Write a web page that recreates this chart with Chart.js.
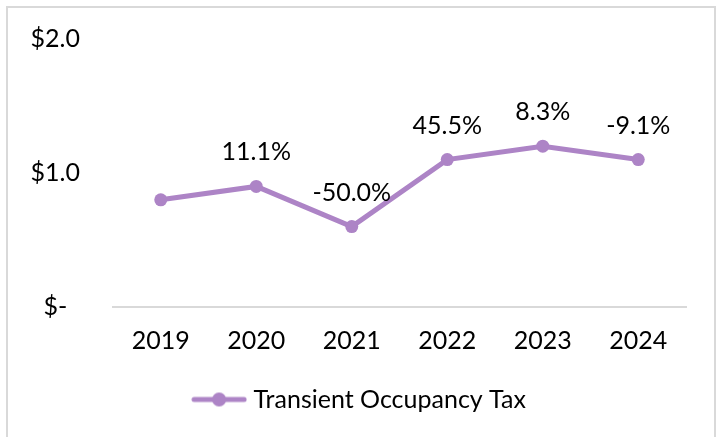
<!DOCTYPE html>
<html>
<head>
<meta charset="utf-8">
<script src="https://cdn.jsdelivr.net/npm/chart.js@4/dist/chart.umd.min.js"></script>
<style>
  html, body { margin: 0; padding: 0; background: #fff; overflow: hidden; }
  #frame { position: absolute; left: 6px; top: 6px; width: 706px; height: 500px; border: 2px solid #d9d9d9; }
  #wrap { position: absolute; left: 0; top: 0; width: 723px; height: 437px; }
</style>
</head>
<body>
<div id="frame"></div>
<div id="wrap"><canvas id="chart" width="723" height="437"></canvas></div>
<script>
// ---------- data ----------
const years     = ['2019', '2020', '2021', '2022', '2023', '2024'];
const taxValues = [0.8, 0.9, 0.6, 1.1, 1.2, 1.1];          // $ millions (approx)
const pctLabels = ['', '11.1%', '-50.0%', '45.5%', '8.3%', '-9.1%'];
const seriesName = 'Transient Occupancy Tax';

const purple = '#ad84c6';
const FONT = 'Lato';
const FS = 25;

// legend marker: line with a dot on it
function legendMark() {
  const c = document.createElement('canvas');
  c.width = 56; c.height = 16;
  const g = c.getContext('2d');
  g.strokeStyle = purple; g.lineWidth = 5; g.lineCap = 'round';
  g.beginPath(); g.moveTo(3, 8); g.lineTo(53, 8); g.stroke();
  g.fillStyle = purple;
  g.beginPath(); g.arc(28, 8, 7, 0, Math.PI * 2); g.fill();
  return c;
}

// ---------- % labels over points ----------
const pctPlugin = {
  id: 'pct',
  afterDatasetsDraw(chart) {
    const ctx = chart.ctx;
    const pts = chart.getDatasetMeta(0).data;
    ctx.save();
    ctx.font = FS + 'px ' + FONT;
    ctx.fillStyle = '#000';
    ctx.textAlign = 'center';
    ctx.textBaseline = 'middle';
    pts.forEach((p, i) => {
      if (pctLabels[i]) ctx.fillText(pctLabels[i], p.x, p.y - 34);
    });
    ctx.restore();
  }
};

new Chart(document.getElementById('chart'), {
  type: 'line',
  data: {
    labels: years,
    datasets: [{
      label: seriesName,
      data: taxValues,
      borderColor: purple,
      backgroundColor: purple,
      borderWidth: 5,
      pointRadius: 6.5,
      pointHoverRadius: 6.5,
      pointBackgroundColor: purple,
      pointBorderWidth: 0,
      pointStyle: 'circle',
      tension: 0
    }]
  },
  options: {
    responsive: false,
    animation: false,
    layout: { padding: { top: 39, right: 0, left: 0, bottom: 15 } },
    plugins: {
      tooltip: { enabled: false },
      legend: {
        position: 'bottom',
        labels: {
          usePointStyle: true,
          pointStyleWidth: 44,
          color: '#000',
          font: { family: FONT, size: FS },
          padding: 12,
          generateLabels: (chart) => [{
            text: seriesName,
            pointStyle: legendMark(),
            fillStyle: purple,
            strokeStyle: purple,
            lineWidth: 0,
            hidden: false,
            datasetIndex: 0
          }]
        }
      }
    },
    scales: {
      x: {
        offset: true,
        grid: { display: false, drawTicks: false, offset: true },
        border: { display: true, color: '#d9d9d9', width: 2 },
        ticks: { color: '#000', font: { family: FONT, size: FS }, padding: 19 }
      },
      y: {
        min: 0, max: 2,
        afterFit: (s) => { s.width = 113; s.paddingTop = 0; s.paddingBottom = 0; },
        grid: { display: false, drawTicks: false },
        border: { display: false },
        ticks: {
          stepSize: 1,
          color: '#000',
          font: { family: FONT, size: FS },
          padding: 33,
          callback: (v) => v === 0 ? '$-  ' : '$' + v.toFixed(1)
        }
      },
      // empty right-hand gutter so the legend centres on the whole canvas
      gutter: {
        position: 'right',
        afterFit: (s) => { s.width = 37; },
        grid: { display: false, drawTicks: false },
        border: { display: false },
        ticks: { display: false }
      }
    }
  },
  plugins: [pctPlugin]
});
</script>
</body>
</html>
